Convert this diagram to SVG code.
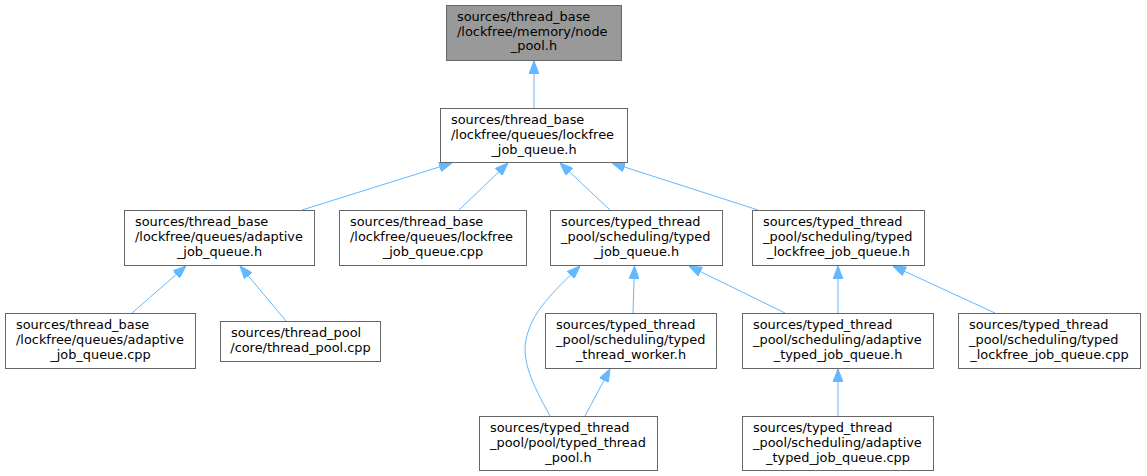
<svg xmlns="http://www.w3.org/2000/svg" width="1147" height="476" viewBox="0 0 1147 476">
<defs>
<style>
.box{fill:#ffffff;stroke:#666666;stroke-width:1}
.root{fill:#999999;stroke:#666666;stroke-width:1}
text{font-family:"DejaVu Sans",Verdana,sans-serif;font-size:12.9px;fill:#000000}
.c{text-anchor:middle}
.e{fill:none;stroke:#63b8ff;stroke-width:1;marker-end:url(#ah)}
</style>
<marker id="ah" viewBox="0 0 13 10" refX="13" refY="5" markerWidth="13" markerHeight="10" markerUnits="userSpaceOnUse" orient="auto">
<path d="M0,0 L13,5 L0,10 z" fill="#63b8ff" stroke="#63b8ff" stroke-width="1"/>
</marker>
</defs>
<rect width="1147" height="476" fill="#ffffff"/>
<g id="connectors">
<path class="e" d="M534,108 L534,61"/>
<path class="e" d="M302,210 L452,163"/>
<path class="e" d="M459,210 L508,163"/>
<path class="e" d="M610,210 L560,163"/>
<path class="e" d="M758,210 L612,163"/>
<path class="e" d="M132,313 L186,266"/>
<path class="e" d="M286,321 L240,266"/>
<path class="e" d="M550,416 C537,392 521,364 526,340 C531,312 555,290 580,266"/>
<path class="e" d="M633,313 L634.5,266"/>
<path class="e" d="M785,313 L689,266"/>
<path class="e" d="M585,416 L610,369"/>
<path class="e" d="M838,313 L838,266"/>
<path class="e" d="M995,313 L893,266"/>
<path class="e" d="M838,416 L838,369"/>
</g>
<g id="n1">
<rect class="root" x="446.5" y="5.5" width="175" height="55"/>
<text x="457" y="20.7">sources/thread_base</text>
<text x="457" y="35.5">/lockfree/memory/node</text>
<text class="c" x="534" y="50.3">_pool.h</text>
</g>
<g id="n2">
<rect class="box" x="440.5" y="108.5" width="187" height="54"/>
<text x="451" y="124">sources/thread_base</text>
<text x="451" y="139">/lockfree/queues/lockfree</text>
<text class="c" x="534" y="154">_job_queue.h</text>
</g>
<g id="n3">
<rect class="box" x="124.5" y="210.5" width="190" height="55"/>
<text x="135" y="226">sources/thread_base</text>
<text x="135" y="241">/lockfree/queues/adaptive</text>
<text class="c" x="219.5" y="256">_job_queue.h</text>
</g>
<g id="n4">
<rect class="box" x="339.5" y="210.5" width="187" height="55"/>
<text x="350" y="226">sources/thread_base</text>
<text x="350" y="241">/lockfree/queues/lockfree</text>
<text class="c" x="433" y="256">_job_queue.cpp</text>
</g>
<g id="n5">
<rect class="box" x="550.5" y="210.5" width="172" height="55"/>
<text x="561" y="226">sources/typed_thread</text>
<text x="561" y="241">_pool/scheduling/typed</text>
<text class="c" x="636.5" y="256">_job_queue.h</text>
</g>
<g id="n6">
<rect class="box" x="752.5" y="210.5" width="172" height="55"/>
<text x="763" y="226">sources/typed_thread</text>
<text x="763" y="241">_pool/scheduling/typed</text>
<text class="c" x="838.5" y="256">_lockfree_job_queue.h</text>
</g>
<g id="n7">
<rect class="box" x="5.5" y="313.5" width="190" height="55"/>
<text x="16" y="329">sources/thread_base</text>
<text x="16" y="344">/lockfree/queues/adaptive</text>
<text class="c" x="100.5" y="359">_job_queue.cpp</text>
</g>
<g id="n8">
<rect class="box" x="220.5" y="321.5" width="160" height="40"/>
<text x="231" y="337">sources/thread_pool</text>
<text class="c" x="300.5" y="351.5">/core/thread_pool.cpp</text>
</g>
<g id="n9">
<rect class="box" x="545.5" y="313.5" width="171" height="55"/>
<text x="556" y="329">sources/typed_thread</text>
<text x="556" y="344">_pool/scheduling/typed</text>
<text class="c" x="631" y="359">_thread_worker.h</text>
</g>
<g id="n10">
<rect class="box" x="742.5" y="313.5" width="191" height="55"/>
<text x="753" y="329">sources/typed_thread</text>
<text x="753" y="344">_pool/scheduling/adaptive</text>
<text class="c" x="838" y="359">_typed_job_queue.h</text>
</g>
<g id="n11">
<rect class="box" x="958.5" y="313.5" width="182" height="55"/>
<text x="969" y="329">sources/typed_thread</text>
<text x="969" y="344">_pool/scheduling/typed</text>
<text class="c" x="1049.5" y="359">_lockfree_job_queue.cpp</text>
</g>
<g id="n12">
<rect class="box" x="479.5" y="416.5" width="178" height="54"/>
<text x="490" y="432">sources/typed_thread</text>
<text x="490" y="447">_pool/pool/typed_thread</text>
<text class="c" x="568.5" y="462">_pool.h</text>
</g>
<g id="n13">
<rect class="box" x="742.5" y="416.5" width="191" height="54"/>
<text x="753" y="432">sources/typed_thread</text>
<text x="753" y="447">_pool/scheduling/adaptive</text>
<text class="c" x="838" y="462">_typed_job_queue.cpp</text>
</g>
</svg>
